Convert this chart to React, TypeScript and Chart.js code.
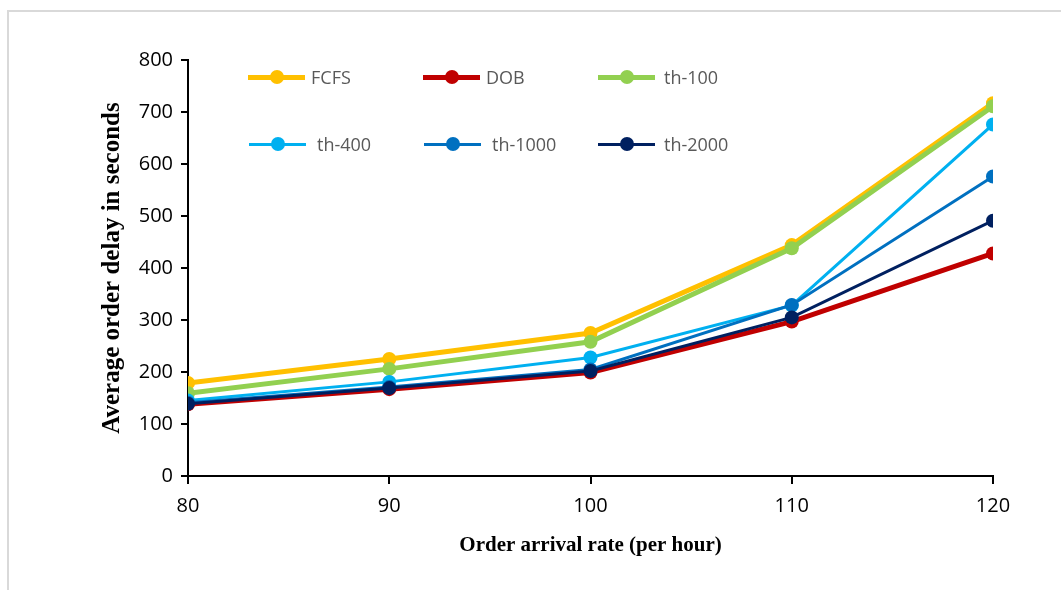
import React, { useEffect, useRef } from "react";
import { Chart, registerables } from "chart.js";

Chart.register(...registerables);

const arrivalRates = [80, 90, 100, 110, 120];
const fcfs = [179, 225, 275, 444, 717];
const dob = [138, 167, 199, 297, 428];
const th100 = [159, 206, 258, 438, 711];
const th400 = [145, 181, 228, 328, 676];
const th1000 = [141, 171, 205, 329, 576];
const th2000 = [139, 169, 202, 305, 491];

const seriesNames = ["FCFS", "DOB", "th-100", "th-400", "th-1000", "th-2000"];
const seriesValues = [fcfs, dob, th100, th400, th1000, th2000];
const seriesColors = ["#FFC000", "#C00000", "#92D050", "#00B0F0", "#0070C0", "#002060"];
const seriesWidths = [5, 5, 5, 3, 3, 3];

const yTicks = [0, 100, 200, 300, 400, 500, 600, 700, 800];
const xTitle = "Order arrival rate (per hour)";
const yTitle = "Average order delay in seconds";

const legendPos = [
  { left: 248, top: 77, textGap: 6 },
  { left: 423, top: 77, textGap: 6 },
  { left: 598, top: 77, textGap: 9 },
  { left: 249, top: 144, textGap: 11 },
  { left: 424, top: 144, textGap: 11 },
  { left: 598, top: 144, textGap: 9 },
];

export default function App() {
  const canvasRef = useRef<HTMLCanvasElement | null>(null);

  useEffect(() => {
    document.body.style.margin = "0";
    const canvas = canvasRef.current;
    if (!canvas) return;
    const chart = new Chart(canvas, {
      type: "line",
      data: {
        datasets: seriesNames.map((name, i) => ({
          label: name,
          data: arrivalRates.map((x, j) => ({ x, y: seriesValues[i][j] })),
          borderColor: seriesColors[i],
          backgroundColor: seriesColors[i],
          borderWidth: seriesWidths[i],
          pointRadius: 7,
          pointHoverRadius: 7,
          pointBorderWidth: 0,
          tension: 0,
          order: seriesNames.length - i,
        })),
      },
      options: {
        animation: false,
        responsive: false,
        maintainAspectRatio: false,
        layout: { padding: { left: 0, top: 60, right: 68, bottom: 0 } },
        plugins: { legend: { display: false }, tooltip: { enabled: false } },
        scales: {
          x: {
            type: "linear",
            min: 80,
            max: 120,
            ticks: {
              stepSize: 10,
              color: "#000",
              font: { family: "Open Sans", size: 20 },
              padding: 10,
            },
            grid: { display: true, drawOnChartArea: false, color: "#000", lineWidth: 2, tickLength: 8 },
            border: { color: "#000", width: 2 },
            title: {
              display: true,
              text: xTitle,
              color: "#000",
              font: { family: "Liberation Serif", size: 21, weight: "bold" },
              padding: { top: 0, bottom: 32 },
            },
            afterFit: (scale: any) => {
              scale.height = 114;
            },
          },
          y: {
            type: "linear",
            min: 0,
            max: 800,
            afterBuildTicks: (scale: any) => {
              scale.ticks = yTicks.map((v) => ({ value: v }));
            },
            ticks: {
              color: "#000",
              font: { family: "Open Sans", size: 20 },
              padding: 8,
            },
            grid: { display: true, drawOnChartArea: false, color: "#000", lineWidth: 2, tickLength: 7 },
            border: { color: "#000", width: 2 },
            title: {
              display: true,
              text: yTitle,
              color: "#000",
              font: { family: "Liberation Serif", size: 25, weight: "bold" },
              padding: { top: 98, bottom: 0 },
            },
            afterFit: (scale: any) => {
              scale.width = 188;
            },
          },
        },
      },
    });
    return () => chart.destroy();
  }, []);

  return (
    <div style={{ position: "relative", width: 1061, height: 590, background: "#fff", overflow: "hidden" }}>
      <div
        style={{
          position: "absolute",
          left: 7,
          top: 10,
          right: -4,
          bottom: -4,
          borderLeft: "2px solid #d9d9d9",
          borderTop: "2px solid #d9d9d9",
        }}
      />
      <canvas ref={canvasRef} width={1061} height={590} style={{ position: "absolute", left: 0, top: 0 }} />
      {seriesNames.map((name, i) => (
        <div
          key={name}
          style={{
            position: "absolute",
            left: legendPos[i].left,
            top: legendPos[i].top - 12,
            height: 24,
            display: "flex",
            alignItems: "center",
            fontFamily: "Open Sans",
            fontSize: 18,
            color: "#595959",
            whiteSpace: "nowrap",
          }}
        >
          <div style={{ position: "relative", width: 57, height: 24, flex: "none" }}>
            <div
              style={{
                position: "absolute",
                left: 0,
                width: 57,
                top: 12 - seriesWidths[i] / 2,
                height: seriesWidths[i],
                background: seriesColors[i],
              }}
            />
            <div
              style={{
                position: "absolute",
                left: 28.5 - 7,
                top: 5,
                width: 14,
                height: 14,
                borderRadius: "50%",
                background: seriesColors[i],
              }}
            />
          </div>
          <span style={{ marginLeft: legendPos[i].textGap }}>{name}</span>
        </div>
      ))}
    </div>
  );
}
